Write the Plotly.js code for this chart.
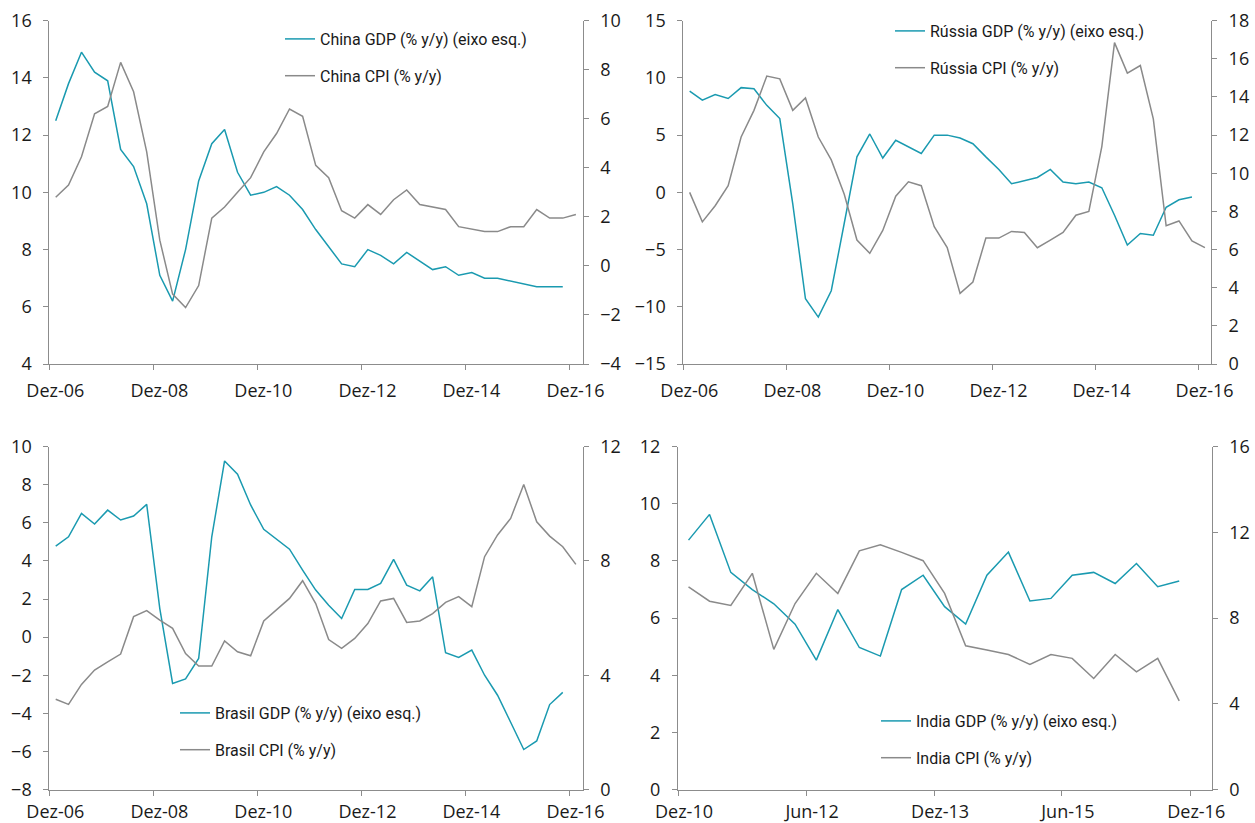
<!DOCTYPE html>
<html>
<head>
<meta charset="utf-8">
<script src="https://cdn.plot.ly/plotly-3.0.1.min.js"></script>
<style>html,body{margin:0;padding:0;background:#fff;}#chart{width:1255px;height:823px;}</style>
</head>
<body>
<div id="chart"></div>
<script>
// ---- categories (quarterly observations) ----
const quarters41 = [
  "2007-01-15","2007-04-15","2007-07-15","2007-10-15",
  "2008-01-15","2008-04-15","2008-07-15","2008-10-15",
  "2009-01-15","2009-04-15","2009-07-15","2009-10-15",
  "2010-01-15","2010-04-15","2010-07-15","2010-10-15",
  "2011-01-15","2011-04-15","2011-07-15","2011-10-15",
  "2012-01-15","2012-04-15","2012-07-15","2012-10-15",
  "2013-01-15","2013-04-15","2013-07-15","2013-10-15",
  "2014-01-15","2014-04-15","2014-07-15","2014-10-15",
  "2015-01-15","2015-04-15","2015-07-15","2015-10-15",
  "2016-01-15","2016-04-15","2016-07-15","2016-10-15",
  "2017-01-15"
];
const quartersIndia = [
  "2011-01-15","2011-04-15","2011-07-15","2011-10-15",
  "2012-01-15","2012-04-15","2012-07-15","2012-10-15",
  "2013-01-15","2013-04-15","2013-07-15","2013-10-15",
  "2014-01-15","2014-04-15","2014-07-15","2014-10-15",
  "2015-01-15","2015-04-15","2015-07-15","2015-10-15",
  "2016-01-15","2016-04-15","2016-07-15","2016-10-15"
];

// ---- tick labels ----
const tickDates1 = ["2006-12-01","2008-12-01","2010-12-01","2012-12-01","2014-12-01","2016-12-01"];
const tickText1 = ["Dez-06","Dez-08","Dez-10","Dez-12","Dez-14","Dez-16"];
const tickDatesIndia = ["2010-12-01","2012-06-01","2013-12-01","2015-06-01","2016-12-01"];
const tickTextIndia = ["Dez-10","Jun-12","Dez-13","Jun-15","Dez-16"];

// ---- series values (% y/y) ----
const chinaGDP = [12.5,13.8,14.9,14.2,13.9,11.5,10.9,9.6,7.1,6.2,8.0,10.4,11.7,12.2,10.7,9.9,10.0,10.2,9.9,9.4,8.7,8.1,7.5,7.4,8.0,7.8,7.5,7.9,7.6,7.3,7.4,7.1,7.2,7.0,7.0,6.9,6.8,6.7,6.7,6.7];
const chinaCPI = [2.8,3.3,4.45,6.2,6.5,8.3,7.1,4.65,1.05,-1.15,-1.7,-0.8,1.95,2.4,3.0,3.6,4.65,5.4,6.4,6.1,4.1,3.6,2.25,1.95,2.5,2.1,2.7,3.1,2.5,2.4,2.3,1.6,1.5,1.4,1.4,1.6,1.6,2.3,1.95,1.95,2.1];

const russiaGDP = [8.85,8.05,8.55,8.2,9.15,9.05,7.6,6.45,-1.0,-9.3,-10.9,-8.6,-2.7,3.1,5.1,3.0,4.55,4.0,3.4,5.0,5.0,4.75,4.25,3.1,2.0,0.75,1.0,1.3,2.0,0.9,0.75,0.9,0.4,-2.0,-4.6,-3.6,-3.75,-1.3,-0.65,-0.4];
const russiaCPI = [9.0,7.45,8.3,9.35,11.9,13.3,15.1,14.95,13.3,13.95,11.9,10.7,8.9,6.5,5.8,7.0,8.8,9.55,9.35,7.2,6.1,3.7,4.3,6.6,6.6,6.95,6.9,6.1,6.5,6.9,7.8,8.0,11.4,16.85,15.25,15.65,12.85,7.25,7.5,6.45,6.1];

const brazilGDP = [4.78,5.27,6.5,5.94,6.67,6.15,6.36,6.97,1.5,-2.43,-2.19,-1.12,5.27,9.25,8.56,6.94,5.66,5.13,4.62,3.52,2.47,1.68,0.98,2.5,2.5,2.82,4.08,2.73,2.43,3.17,-0.82,-1.07,-0.68,-2.0,-3.05,-4.47,-5.9,-5.45,-3.54,-2.9];
const brazilCPI = [3.16,2.98,3.68,4.18,4.47,4.74,6.05,6.26,5.93,5.64,4.76,4.32,4.32,5.2,4.82,4.68,5.9,6.3,6.69,7.31,6.51,5.25,4.94,5.29,5.81,6.6,6.69,5.85,5.9,6.16,6.55,6.75,6.4,8.15,8.91,9.49,10.68,9.37,8.87,8.5,7.88];

const indiaGDP = [8.73,9.63,7.6,7.0,6.5,5.79,4.53,6.3,4.97,4.67,7.0,7.5,6.4,5.79,7.5,8.31,6.6,6.69,7.5,7.6,7.21,7.91,7.1,7.3];
const indiaCPI = [9.46,8.79,8.59,10.09,6.54,8.68,10.09,9.15,11.14,11.42,11.07,10.68,9.15,6.71,6.51,6.3,5.84,6.3,6.12,5.18,6.3,5.49,6.12,4.14];

// ---- styling ----
const TEAL = "#1a9ab0";
const GREY = "#8a8a8a";
const AXIS = "#8c8c8c";
const TICKFONT = {family: "Open Sans, Noto Sans, sans-serif", size: 18, color: "#1a1a1a"};
const LEGFONT = {family: "Liberation Sans Narrow, Roboto, sans-serif", size: 16, color: "#1a1a1a"};

function gdpTrace(x, y, name, xa, ya, leg) {
  return {x: x, y: y, name: name, type: "scatter", mode: "lines",
          line: {color: TEAL, width: 1.5}, xaxis: xa, yaxis: ya, legend: leg,
          legendgroup: name, hoverinfo: "skip"};
}
function cpiTrace(x, y, name, xa, ya, leg) {
  return {x: x, y: y, name: name, type: "scatter", mode: "lines",
          line: {color: GREY, width: 1.5}, xaxis: xa, yaxis: ya, legend: leg,
          legendgroup: name, hoverinfo: "skip"};
}

const data = [
  gdpTrace(quarters41.slice(0, chinaGDP.length), chinaGDP, "China GDP (% y/y) (eixo esq.)", "x", "y", "legend"),
  cpiTrace(quarters41.slice(0, chinaCPI.length), chinaCPI, "China CPI (% y/y)", "x", "y2", "legend"),
  gdpTrace(quarters41.slice(0, russiaGDP.length), russiaGDP, "Rússia GDP (% y/y) (eixo esq.)", "x2", "y3", "legend2"),
  cpiTrace(quarters41.slice(0, russiaCPI.length), russiaCPI, "Rússia CPI (% y/y)", "x2", "y4", "legend2"),
  gdpTrace(quarters41.slice(0, brazilGDP.length), brazilGDP, "Brasil GDP (% y/y) (eixo esq.)", "x3", "y5", "legend3"),
  cpiTrace(quarters41.slice(0, brazilCPI.length), brazilCPI, "Brasil CPI (% y/y)", "x3", "y6", "legend3"),
  gdpTrace(quartersIndia, indiaGDP, "India GDP (% y/y) (eixo esq.)", "x4", "y7", "legend4"),
  cpiTrace(quartersIndia, indiaCPI, "India CPI (% y/y)", "x4", "y8", "legend4")
];

const W = 1255, H = 823;
const px = v => v / W;
const py = v => 1 - v / H;

function xAxis(domain, range, tv, tt, anchor, standoff) {
  return {type: "date", domain: domain, range: range, anchor: anchor,
          tickmode: "array", tickvals: tv, ticktext: tt,
          showgrid: false, zeroline: false, showline: true, linecolor: AXIS, linewidth: 1,
          ticks: "outside", ticklen: 5, tickcolor: AXIS, tickwidth: 1,
          tickfont: TICKFONT, ticklabelshift: 6, ticklabelstandoff: standoff, fixedrange: true};
}
function yAxis(domain, range, dtick, anchor, side, overlay) {
  const a = {domain: domain, range: range, anchor: anchor, side: side,
          tickmode: "linear", tick0: range[0], dtick: dtick,
          showgrid: false, zeroline: false, showline: true, linecolor: AXIS, linewidth: 1,
          ticks: "outside", ticklen: 5, tickcolor: AXIS, tickwidth: 1,
          tickfont: TICKFONT, ticklabelstandoff: 8, fixedrange: true};
  if (overlay) a.overlaying = overlay;
  return a;
}

const topY = [py(364), py(20.7)];
const botY = [py(789.5), py(446.7)];
const leftX = [px(49.3), px(582.7)];
const rRusX = [px(683.3), px(1211)];
const rIndX = [px(678), px(1211.7)];

function leg(xPix, yPix) {
  return {x: px(xPix), y: py(yPix), xanchor: "left", yanchor: "top",
          bgcolor: "rgba(0,0,0,0)", borderwidth: 0, font: LEGFONT,
          traceorder: "grouped", tracegroupgap: 13, itemclick: false, itemdoubleclick: false};
}

const layout = {
  width: W, height: H,
  margin: {l: 0, r: 0, t: 0, b: 0},
  paper_bgcolor: "#ffffff", plot_bgcolor: "rgba(0,0,0,0)",
  showlegend: true,
  xaxis: xAxis(leftX, ["2006-12-01", "2017-03-04"], tickDates1, tickText1, "y", 5),
  yaxis: yAxis(topY, [4, 16], 2, "x", "left"),
  yaxis2: yAxis(topY, [-4, 10], 2, "x", "right", "y"),
  xaxis2: xAxis(rRusX, ["2006-12-01", "2017-02-27"], tickDates1, tickText1, "y3", 5),
  yaxis3: yAxis(topY, [-15, 15], 5, "x2", "left"),
  yaxis4: yAxis(topY, [0, 18], 2, "x2", "right", "y3"),
  xaxis3: xAxis(leftX, ["2006-12-01", "2017-03-04"], tickDates1, tickText1, "y5", 1),
  yaxis5: yAxis(botY, [-8, 10], 2, "x3", "left"),
  yaxis6: yAxis(botY, [0, 12], 4, "x3", "right", "y5"),
  xaxis4: xAxis(rIndX, ["2010-12-01", "2017-03-03"], tickDatesIndia, tickTextIndia, "y7", 1),
  yaxis7: yAxis(botY, [0, 12], 2, "x4", "left"),
  yaxis8: yAxis(botY, [0, 16], 4, "x4", "right", "y7"),
  legend: leg(280, 22),
  legend2: leg(890, 14),
  legend3: leg(175, 696),
  legend4: leg(876, 704)
};

Plotly.newPlot("chart", data, layout, {displayModeBar: false, staticPlot: true});
</script>
</body>
</html>
